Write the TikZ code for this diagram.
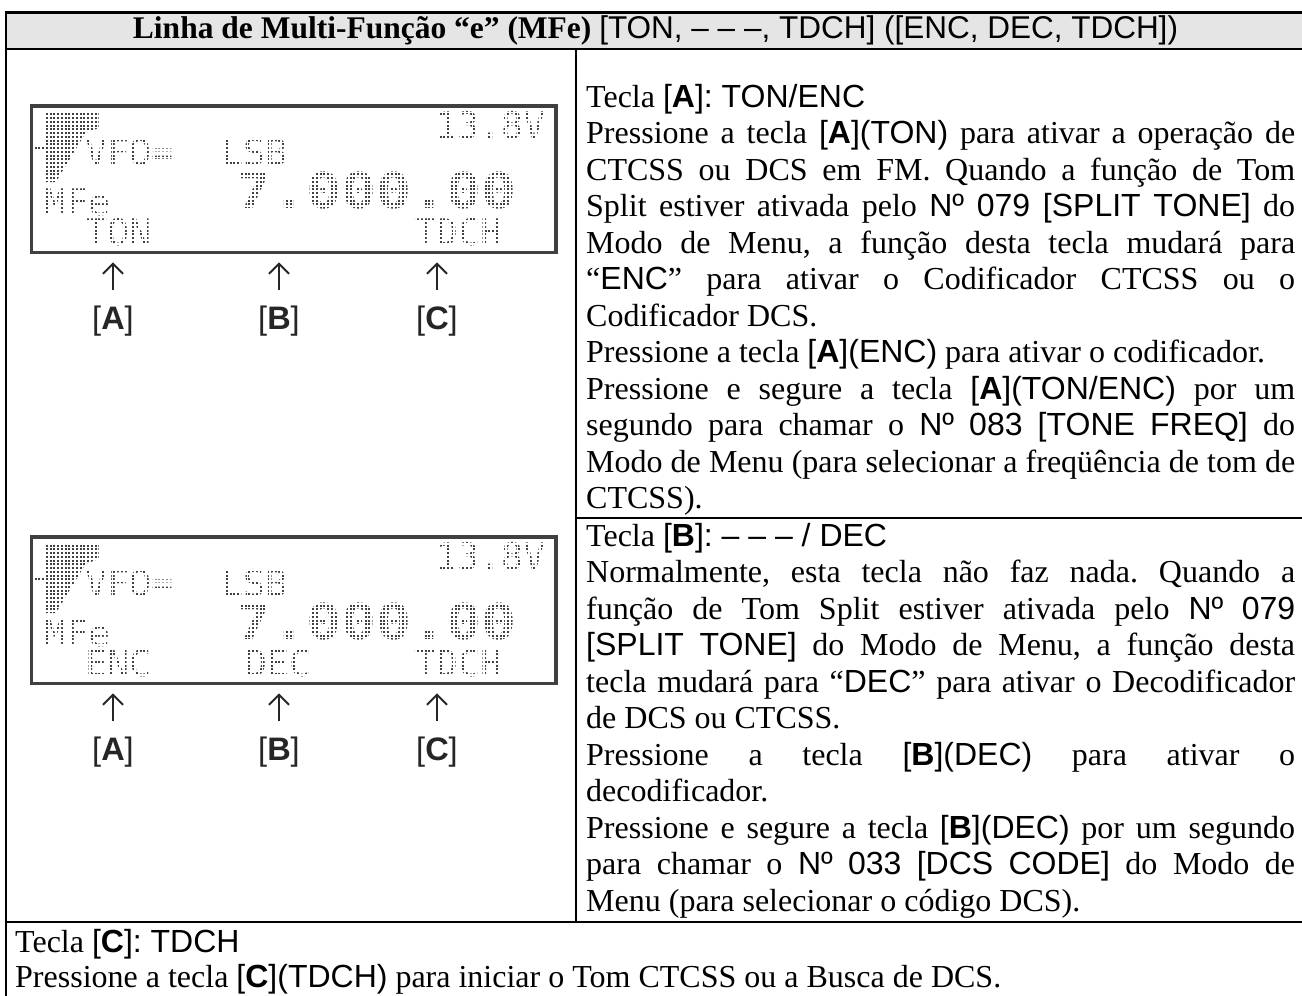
\documentclass[tikz,border=0pt]{standalone}
\usepackage{fontspec}
\usetikzlibrary{arrows.meta}
\setmainfont{Liberation Serif}[WordSpace={1,1.3,1.8}]
\newfontfamily\arialfont{Liberation Sans}
\newfontfamily\lcdfont{DejaVu Sans Mono}
\newfontfamily\lcdbigfont[FakeStretch=1.18]{DejaVu Sans Mono}
\newcommand\ari[1]{{\arialfont #1}}
\newcommand\tecla[1]{{\arialfont[\textbf{#1}]}}
\hyphenpenalty=10000
\tolerance=10000
\frenchspacing

\begin{document}
\begin{tikzpicture}[x=1pt,y=-1pt,
  tableline/.style={line width=2.5pt},
  celltext/.style={anchor=base west,inner sep=0pt,text width=709pt,align=justify,font=\fontsize{32}{36.5}\selectfont},
  lcdframe/.style={draw=black!75,line width=3.5pt},
  lcdtext/.style={anchor=base west,inner sep=0pt,text=black!75,font=\lcdfont\fontsize{36.6}{40}\selectfont},
  lcdbig/.style={anchor=base west,inner sep=0pt,text=black!75,font=\lcdbigfont\bfseries\fontsize{49.4}{55}\selectfont},
  keylabel/.style={inner sep=0pt,text=black!85,font=\arialfont\fontsize{32.5}{36}\selectfont},
  keyarrow/.style={-{Straight Barb[length=10pt,width=20pt]},line width=2pt,black!85}]
  \fill[white] (0,0) rectangle (1302,996);
  \useasboundingbox (0,0) rectangle (1302,996);
  \fill[black!10] (6,12.7) rectangle (1305,49);
  \draw[tableline] (6,1000) -- (6,12.7) -- (1305,12.7);
  \draw[tableline] (6,49) -- (1305,49);
  \draw[tableline] (576,49) -- (576,922);
  \draw[tableline] (576,518) -- (1305,518);
  \draw[tableline] (6,922) -- (1305,922);
  \node[inner sep=0pt,anchor=base,font=\fontsize{31.5}{36}\selectfont] (title) at (655.5,38.5)
    {\textbf{Linha de Multi-Função “e” (MFe)} \ari{[TON, – – –, TDCH] ([ENC, DEC, TDCH])}};
  \node[celltext] (cellA) at (586,107) {Tecla \tecla{A}\ari{: TON/ENC}\par
    Pressione a tecla \tecla{A}\ari{(TON)} para ativar a operação de\linebreak
    CTCSS ou DCS em FM. Quando a função de Tom\linebreak
    Split estiver ativada pelo \ari{Nº 079 [SPLIT TONE]} do\linebreak
    Modo de Menu, a função desta tecla mudará para\linebreak
    “\ari{ENC}” para ativar o Codificador CTCSS ou o\linebreak
    Codificador DCS.\par
    Pressione a tecla \tecla{A}\ari{(ENC)} para ativar o codificador.\par
    Pressione e segure a tecla \tecla{A}\ari{(TON/ENC)} por um\linebreak
    segundo para chamar o \ari{Nº 083 [TONE FREQ]} do\linebreak
    Modo de Menu (para selecionar a freqüência de tom de\linebreak
    CTCSS).};
  \node[celltext] (cellB) at (586,546) {Tecla \tecla{B}\ari{: – – – / DEC}\par
    Normalmente, esta tecla não faz nada. Quando a\linebreak
    função de Tom Split estiver ativada pelo \ari{Nº 079}\linebreak
    \ari{[SPLIT TONE]} do Modo de Menu, a função desta\linebreak
    tecla mudará para “\ari{DEC}” para ativar o Decodificador\linebreak
    de DCS ou CTCSS.\par
    Pressione a tecla \tecla{B}\ari{(DEC)} para ativar o\linebreak
    decodificador.\par
    Pressione e segure a tecla \tecla{B}\ari{(DEC)} por um segundo\linebreak
    para chamar o \ari{Nº 033 [DCS CODE]} do Modo de\linebreak
    Menu (para selecionar o código DCS).};
  \node[celltext,text width=1280pt,font=\fontsize{32}{35}\selectfont] (cellC) at (15,952.4) {Tecla \tecla{C}\ari{: TDCH}\par
    Pressione a tecla \tecla{C}\ari{(TDCH)} para iniciar o Tom CTCSS ou a Busca de DCS.};
  \foreach \ty/\ta/\tb/\n in {106/TON//1,537/ENC/DEC/2} {
    \node[inner sep=0pt,minimum width=524pt,minimum height=146pt,anchor=north west] (lcd\n) at (31.6,\ty) {};
    \begin{scope}
      \clip (lcd\n.north west) rectangle (lcd\n.south east);
      \fill[black!75] (44.6,\ty+7) -- (98.5,\ty+7) -- (98.5,\ty+22) -- (85.5,\ty+27) -- (55.8,\ty+76) -- (44.6,\ty+76) -- cycle;
      \fill[black!75] (35,\ty+40) rectangle (44.6,\ty+44);
      \node[lcdtext] (volt\n) at (435,\ty+32.4) {13.8V};
      \node[lcdtext] (vfo\n) at (85,\ty+59.4) {VFO=};
      \node[lcdtext] (mode\n) at (221,\ty+59.4) {LSB};
      \node[lcdtext] (mfe\n) at (44,\ty+109.4) {MFe};
      \node[lcdbig] (freq\n) at (236,\ty+102) {7.000.00};
      \node[lcdtext] (fa\n) at (85,\ty+139.4) {\ta};
      \node[lcdtext] (fb\n) at (245,\ty+139.4) {\tb};
      \node[lcdtext] (fc\n) at (414,\ty+139.4) {TDCH};
      \draw[white,line width=1.6pt,step=3.75pt] (lcd\n.north west) grid (lcd\n.south east);
    \end{scope}
    \draw[lcdframe] (lcd\n.north west) rectangle (lcd\n.south east);
    \foreach \k/\kx in {A/113,B/279,C/437} {
      \node[keylabel] (key\k\n) at (\kx,\ty+215) {[\textbf{\k}]};
      \draw[keyarrow,shorten <=15.7pt,shorten >=10pt] (key\k\n.north) -- (key\k\n.north |- lcd\n.south);
    }
  }
\end{tikzpicture}
\end{document}
